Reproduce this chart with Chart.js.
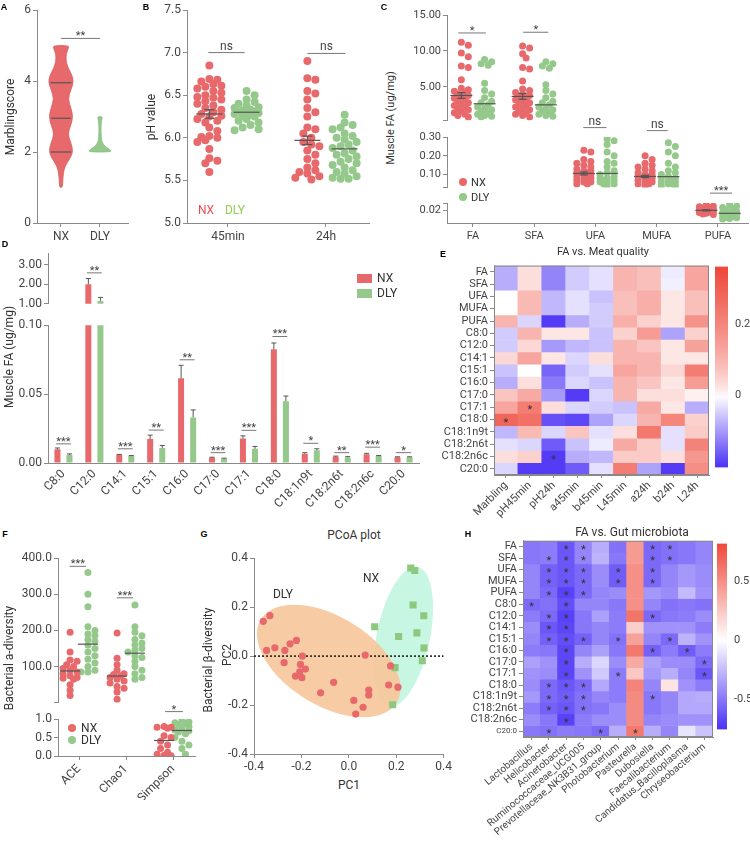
<!DOCTYPE html>
<html>
<head>
<meta charset="utf-8">
<script src="https://cdn.jsdelivr.net/npm/chart.js@4.4.1/dist/chart.umd.min.js"></script>
<style>
  body { margin: 0; background: #fff; }
  #fig { position: relative; width: 750px; height: 841px; overflow: hidden; font-family: Roboto, 'Liberation Sans', sans-serif; color: #333; }
  .lbl { position: absolute; white-space: nowrap; line-height: 1; }
  .sw { position: absolute; }
</style>
</head>
<body>
<div id="fig"></div>
<script>
// ---------- A: marbling score violins (profile) ----------
const marbGroups = ['NX', 'DLY'];
const marbTicks = [0, 2, 4, 6];
const marbTickLabels = ['0', '2', '4', '6'];
const marbLevelsNX = [1.0, 1.2, 1.4, 1.6, 1.8, 2.0, 2.25, 2.5, 2.75, 3.0, 3.25, 3.5, 3.75, 3.95, 4.15, 4.35, 4.55, 4.75, 4.9, 5.0];
const marbWidthNX = [0.04, 0.045, 0.06, 0.10, 0.22, 0.31, 0.26, 0.17, 0.25, 0.31, 0.25, 0.18, 0.25, 0.32, 0.29, 0.19, 0.13, 0.13, 0.18, 0.21];
const marbQuartNX = [2.0, 2.95, 3.95];
const marbLevelsDLY = [2.0, 2.07, 2.15, 2.25, 2.4, 2.7, 2.9, 3.0];
const marbWidthDLY = [0.31, 0.25, 0.14, 0.06, 0.03, 0.025, 0.04, 0.07];

// ---------- B: pH value ----------
const phTimes = ['45min', '24h'];
const phTicks = [5, 5.5, 6, 6.5, 7, 7.5];
const phTickLabels = ['5.0', '5.5', '6.0', '6.5', '7.0', '7.5'];
const phNX45 = [6.85, 6.69, 6.68, 6.66, 6.63, 6.61, 6.6, 6.58, 6.55, 6.53, 6.5, 6.48, 6.47, 6.45, 6.43, 6.4, 6.38, 6.35, 6.33, 6.3, 6.28, 6.26, 6.25, 6.22, 6.2, 6.18, 6.12, 6.08, 6.02, 6.01, 6.0, 5.97, 5.95, 5.87, 5.76, 5.73, 5.7, 5.6];
const phDLY45 = [6.55, 6.5, 6.45, 6.42, 6.4, 6.38, 6.36, 6.35, 6.33, 6.32, 6.31, 6.3, 6.3, 6.29, 6.28, 6.27, 6.26, 6.25, 6.22, 6.2, 6.18, 6.15, 6.12, 6.1, 6.09];
const phNX24 = [6.9, 6.7, 6.68, 6.55, 6.52, 6.45, 6.35, 6.3, 6.25, 6.12, 6.1, 6.05, 6.0, 5.95, 5.92, 5.9, 5.85, 5.8, 5.75, 5.7, 5.65, 5.62, 5.6, 5.58, 5.55, 5.53, 5.51];
const phDLY24 = [6.27, 6.18, 6.15, 6.12, 6.1, 6.05, 6.02, 6.0, 5.98, 5.95, 5.92, 5.9, 5.88, 5.85, 5.82, 5.8, 5.78, 5.75, 5.72, 5.7, 5.68, 5.65, 5.62, 5.6, 5.58, 5.55, 5.53, 5.52, 5.52];
const phMeanNX = [6.28, 5.97];
const phSemNX = [0.05, 0.05];
const phMeanDLY = [6.30, 5.87];
const phSig = [{ x1: 0.8, x2: 1.17, y: 7.0, t: 'ns' }, { x1: 1.81, x2: 2.2, y: 6.99, t: 'ns' }];

// ---------- C: muscle FA classes ----------
const faCats = ['FA', 'SFA', 'UFA', 'MUFA', 'PUFA'];
const faNX = [
  [11.2, 10.8, 9.7, 9.2, 7.9, 7.7, 6.0, 4.8, 4.6, 4.4, 4.2, 4.0, 3.8, 3.6, 3.4, 3.2, 3.0, 2.8, 2.6, 2.4, 2.2, 2.0, 1.8, 1.6, 1.4, 1.2, 1.0, 0.8],
  [10.7, 10.4, 9.6, 9.0, 7.7, 7.5, 5.8, 4.7, 4.5, 4.2, 4.0, 3.8, 3.6, 3.4, 3.2, 3.0, 2.8, 2.6, 2.4, 2.2, 2.0, 1.8, 1.6, 1.4, 1.2, 1.0, 0.8],
  [0.23, 0.22, 0.18, 0.17, 0.16, 0.15, 0.14, 0.13, 0.12, 0.12, 0.11, 0.11, 0.1, 0.1, 0.09, 0.09, 0.08, 0.08, 0.07, 0.07, 0.06, 0.06, 0.05, 0.05],
  [0.2, 0.18, 0.16, 0.15, 0.14, 0.13, 0.12, 0.11, 0.1, 0.1, 0.09, 0.09, 0.08, 0.08, 0.07, 0.07, 0.06, 0.06, 0.05, 0.05, 0.04],
  [0.0277, 0.026, 0.025, 0.024, 0.023, 0.022, 0.021, 0.02, 0.02, 0.019, 0.019, 0.018, 0.017, 0.016, 0.015, 0.014, 0.013]
];
const faDLY = [
  [8.8, 8.5, 8.2, 8.0, 5.5, 4.5, 4.0, 3.5, 3.0, 2.8, 2.5, 2.2, 2.0, 1.8, 1.6, 1.4, 1.2, 1.0, 0.9, 0.8],
  [8.5, 8.2, 7.9, 7.6, 5.3, 4.5, 4.0, 3.5, 3.0, 2.8, 2.5, 2.2, 2.0, 1.8, 1.6, 1.4, 1.2, 1.0, 0.9],
  [0.29, 0.28, 0.26, 0.22, 0.2, 0.17, 0.16, 0.14, 0.12, 0.11, 0.1, 0.09, 0.08, 0.08, 0.07, 0.07, 0.06, 0.06, 0.05, 0.05, 0.04],
  [0.27, 0.25, 0.22, 0.2, 0.16, 0.14, 0.12, 0.11, 0.1, 0.09, 0.08, 0.08, 0.07, 0.07, 0.06, 0.06, 0.05, 0.05, 0.04, 0.04],
  [0.028, 0.026, 0.024, 0.022, 0.02, 0.018, 0.017, 0.016, 0.015, 0.014, 0.013, 0.012, 0.011, 0.01, 0.009, 0.008, 0.007, 0.006]
];
const faMeanNX = [3.8, 3.67, 0.106, 0.09, 0.0195];
const faSemNX = [0.4, 0.4, 0.008, 0.006, 0.0008];
const faMeanDLY = [2.65, 2.5, 0.106, 0.089, 0.0149];
const faSemDLY = [0, 0, 0, 0, 0];
const faTopTicks = [0.333, 5, 10, 15];
const faTopLabels = ['', '5.00', '10.00', '15.00'];
const faMidTicks = [0.0317, 0.1, 0.2, 0.3];
const faMidLabels = ['', '0.10', '0.20', '0.30'];
const faLowTicks = [0.02, 0.0308];
const faLowLabels = ['0.02', ''];
const faSig = [
  { x1: 0.76, x2: 1.21, y: 12.5, t: '*' }, { x1: 1.82, x2: 2.23, y: 12.6, t: '*' },
  { x1: 2.8, x2: 3.18, y: 0.35, t: 'ns' }, { x1: 3.84, x2: 4.18, y: 0.334, t: 'ns' },
  { x1: 4.87, x2: 5.23, y: 0.046, t: '***' }
];

// ---------- D: individual fatty acids ----------
const dCats = ['C8:0', 'C12:0', 'C14:1', 'C15:1', 'C16:0', 'C17:0', 'C17:1', 'C18:0', 'C18:1n9t', 'C18:2n6t', 'C18:2n6c', 'C20:0'];
const dNX = [0.0099, 2.00, 0.0058, 0.0174, 0.0615, 0.0038, 0.0178, 0.0826, 0.0068, 0.0045, 0.0063, 0.0042];
const dNXse = [0.0010, 0.30, 0.0004, 0.0028, 0.0094, 0.0004, 0.0019, 0.0045, 0.0007, 0.0005, 0.0007, 0.0003];
const dDLY = [0.0058, 1.15, 0.0050, 0.0108, 0.0331, 0.0033, 0.0103, 0.0448, 0.0092, 0.0040, 0.0050, 0.0042];
const dDLYse = [0.0008, 0.18, 0.0004, 0.0019, 0.0054, 0.0002, 0.0017, 0.0038, 0.0011, 0.0006, 0.0004, 0.0003];
const dSigY = [0.0139, 2.59, 0.0103, 0.0239, 0.0749, 0.0075, 0.0237, 0.0918, 0.0143, 0.0075, 0.0115, 0.0075];
const dSigTxt = ['***', '**', '***', '**', '**', '***', '***', '***', '*', '**', '***', '*'];
const dTopTicks = [1, 2, 3];
const dTopLabels = ['1.00', '2.00', '3.00'];
const dLowTicks = [0, 0.05, 0.1];
const dLowLabels = ['0.00', '0.05', '0.10'];

// ---------- E: FA vs meat quality ----------
const faRows = ['FA', 'SFA', 'UFA', 'MUFA', 'PUFA', 'C8:0', 'C12:0', 'C14:1', 'C15:1', 'C16:0', 'C17:0', 'C17:1', 'C18:0', 'C18:1n9t', 'C18:2n6t', 'C18:2n6c', 'C20:0'];
const eCols = ['Marbling', 'pH45min', 'pH24h', 'a45min', 'b45min', 'L45min', 'a24h', 'b24h', 'L24h'];
const eVals = [
  [-0.08, 0.03, -0.12, -0.05, -0.03, 0.10, 0.08, -0.02, 0.13],
  [-0.08, 0.03, -0.12, -0.05, -0.03, 0.10, 0.08, -0.015, 0.13],
  [0.00, 0.09, -0.07, -0.03, -0.06, 0.08, 0.11, 0.02, 0.08],
  [0.00, 0.09, -0.07, -0.03, -0.05, 0.08, 0.11, 0.02, 0.08],
  [0.10, -0.04, -0.19, -0.08, -0.05, 0.11, 0.05, 0.02, 0.17],
  [-0.05, 0.10, 0.02, 0.02, -0.06, 0.05, 0.15, -0.09, 0.05],
  [-0.05, 0.04, -0.10, -0.07, -0.06, 0.10, 0.07, 0.02, 0.14],
  [0.04, 0.13, 0.02, -0.04, 0.03, 0.10, 0.10, 0.02, 0.02],
  [-0.06, 0.00, -0.15, -0.05, -0.03, 0.13, 0.10, 0.04, 0.22],
  [-0.08, 0.03, -0.13, -0.04, -0.06, 0.10, 0.07, 0.02, 0.15],
  [0.07, 0.12, -0.10, -0.19, -0.04, 0.10, 0.03, 0.03, 0.01],
  [0.13, 0.22, 0.03, -0.04, -0.05, -0.06, 0.12, 0.02, -0.08],
  [0.28, 0.25, -0.17, -0.18, -0.09, -0.04, 0.10, 0.20, 0.05],
  [-0.07, 0.09, -0.04, 0.07, -0.03, 0.03, 0.23, -0.03, 0.06],
  [-0.03, -0.04, -0.16, -0.06, -0.02, 0.12, 0.06, -0.03, 0.21],
  [0.03, 0.05, -0.19, -0.08, -0.07, 0.06, 0.06, 0.03, 0.16],
  [-0.04, -0.19, -0.19, -0.16, -0.03, 0.22, -0.09, -0.19, 0.18]
];
const eStars = [[11, 1], [12, 0], [15, 2]];
const eRange = [-0.2, 0.36];
const eBarTicks = [0, 0.2];
const eBarLabels = ['0', '0.2'];

// ---------- F: alpha diversity ----------
const fCats = ['ACE', 'Chao1', 'Simpson'];
const fNX = [
  [195, 140, 118, 115, 105, 100, 95, 90, 85, 80, 75, 70, 68, 65, 50, 35, 20],
  [193, 123, 105, 90, 80, 78, 75, 70, 65, 60, 55, 45, 40, 30, 10],
  [0.8, 0.78, 0.78, 0.75, 0.55, 0.5, 0.4, 0.3, 0.2, 0.1, 0.05, 0.02, 0.01]
];
const fDLY = [
  [360, 300, 265, 210, 200, 190, 185, 175, 170, 160, 150, 140, 130, 120, 110, 100, 90, 85, 85],
  [270, 210, 195, 185, 175, 165, 160, 150, 145, 140, 130, 125, 115, 100, 90, 80, 70, 65],
  [0.97, 0.92, 0.9, 0.88, 0.85, 0.8, 0.75, 0.7, 0.68, 0.65, 0.6, 0.5, 0.4, 0.3, 0.2, 0.05]
];
const fMeanNX = [88, 74, 0.42];
const fMeanDLY = [162, 137, 0.69];
const fSig = [{ x1: 0.8, x2: 1.15, y: 377, t: '***' }, { x1: 1.8, x2: 2.15, y: 290, t: '***' }, { x1: 2.83, x2: 3.21, y: 1.2, t: '*' }];
const fTopTicks = [0, 100, 200, 300, 400];
const fTopLabels = ['', '100.0', '200.0', '300.0', '400.0'];
const fLowTicks = [0, 0.5, 1];
const fLowLabels = ['0.0', '0.5', '1.0'];

// ---------- G: PCoA ----------
const pcTicks = [-0.4, -0.2, 0, 0.2, 0.4];
const pcTickLabels = ['-0.4', '-0.2', '0.0', '0.2', '0.4'];
const pcDLYx = [-0.361, -0.333, -0.347, -0.312, -0.270, -0.273, -0.248, -0.221, -0.196, -0.204, -0.207, -0.183, -0.225, -0.198, -0.119, -0.064, 0.069, 0.021, 0.029, 0.060, 0.084, 0.084, 0.168, 0.176, 0.207];
const pcDLYy = [0.142, 0.165, 0.023, 0.034, 0.023, -0.027, 0.050, 0.064, 0.000, -0.034, -0.064, -0.053, -0.082, -0.088, -0.150, -0.107, 0.004, -0.181, -0.237, -0.209, -0.139, -0.159, -0.118, -0.040, -0.127];
const pcNXx = [0.261, 0.278, 0.271, 0.316, 0.109, 0.210, 0.287, 0.317, 0.310, 0.195, 0.185];
const pcNXy = [0.360, 0.350, 0.209, 0.165, 0.120, 0.080, 0.095, 0.033, -0.019, -0.047, -0.199];
// confidence ellipses: centre, semi axes, angle (deg)
const ellDLY = [-0.085, -0.02, 0.333, 0.183, -30];
const ellNX = [0.23, 0.08, 0.29, 0.112, 78];

// ---------- H: FA vs gut microbiota ----------
const hCols = ['Lactobacillus', 'Helicobacter', 'Acinetobacter', 'Ruminococcaceae_UCG005', 'Prevotellaceae_NK3B31_group', 'Photobacterium', 'Pasteurella', 'Dubosiella', 'Faecalibacterium', 'Candidatus_Bacilloplasma', 'Chryseobacterium'];
const hVals = [
  [-0.50, -0.48, -0.62, -0.45, -0.30, -0.52, 0.45, -0.55, -0.52, -0.50, -0.45],
  [-0.50, -0.48, -0.62, -0.45, -0.28, -0.50, 0.45, -0.55, -0.52, -0.50, -0.45],
  [-0.45, -0.58, -0.62, -0.55, -0.42, -0.60, 0.50, -0.55, -0.45, -0.38, -0.42],
  [-0.45, -0.58, -0.62, -0.55, -0.42, -0.60, 0.50, -0.55, -0.45, -0.38, -0.42],
  [-0.45, -0.55, -0.70, -0.55, -0.45, -0.42, 0.50, -0.38, -0.42, -0.25, -0.40],
  [-0.55, -0.52, -0.65, -0.45, -0.45, -0.50, 0.50, -0.45, -0.52, -0.50, -0.52],
  [-0.48, -0.55, -0.70, -0.50, -0.35, -0.48, 0.62, -0.55, -0.50, -0.48, -0.42],
  [-0.42, -0.62, -0.68, -0.50, -0.45, -0.48, 0.22, -0.40, -0.40, -0.40, -0.48],
  [-0.45, -0.58, -0.65, -0.58, -0.45, -0.52, 0.42, -0.45, -0.55, -0.28, -0.40],
  [-0.48, -0.50, -0.68, -0.45, -0.35, -0.50, 0.60, -0.58, -0.48, -0.60, -0.48],
  [-0.35, -0.40, -0.68, -0.30, -0.15, -0.42, 0.38, -0.35, -0.42, -0.42, -0.55],
  [-0.40, -0.42, -0.68, -0.40, -0.20, -0.48, 0.25, -0.38, -0.30, -0.45, -0.62],
  [-0.42, -0.55, -0.62, -0.55, -0.32, -0.48, 0.55, -0.45, 0.12, -0.40, -0.48],
  [-0.38, -0.55, -0.60, -0.52, -0.45, -0.48, 0.52, -0.50, -0.45, -0.32, -0.30],
  [-0.48, -0.58, -0.62, -0.52, -0.50, -0.42, 0.52, -0.50, -0.45, -0.32, -0.32],
  [-0.42, -0.50, -0.70, -0.48, -0.42, -0.42, 0.52, -0.45, -0.42, -0.40, -0.40],
  [-0.50, -0.52, -0.48, -0.50, -0.55, -0.30, 0.60, -0.30, -0.45, -0.10, -0.22]
];
const hStars = [
  [0, 2], [0, 3], [0, 7], [0, 8],
  [1, 1], [1, 2], [1, 3], [1, 7], [1, 8],
  [2, 1], [2, 2], [2, 3], [2, 5], [2, 7],
  [3, 1], [3, 2], [3, 3], [3, 5], [3, 7],
  [4, 1], [4, 2], [4, 3],
  [5, 0], [5, 2],
  [6, 1], [6, 2], [6, 7],
  [7, 1], [7, 2],
  [8, 1], [8, 2], [8, 3], [8, 5], [8, 8],
  [9, 2], [9, 7], [9, 9],
  [10, 2], [10, 10],
  [11, 2], [11, 5], [11, 10],
  [12, 1], [12, 2], [12, 3],
  [13, 1], [13, 2], [13, 3], [13, 7],
  [14, 1], [14, 2], [14, 3],
  [15, 2],
  [16, 1], [16, 4], [16, 6]
];
const hRange = [-0.754, 0.82];
const hBarTicks = [-0.5, 0, 0.5];
const hBarLabels = ['-0.5', '0', '0.5'];

// ---------- style ----------
const RED = '#e8696b', GREEN = '#95c98c', AXIS = '#8a8a8a', INK = '#444';
const NEG = [75, 50, 245], POS = [238, 72, 58];
Chart.defaults.font.family = "Roboto, 'Liberation Sans', sans-serif";
Chart.defaults.font.size = 11;
Chart.defaults.color = INK;
Chart.defaults.animation = false;
Chart.defaults.events = [];
Chart.defaults.plugins.legend.display = false;
Chart.defaults.plugins.tooltip.enabled = false;

const fig = document.getElementById('fig');

function txt(s, x, y, o = {}) {
  const d = document.createElement('div');
  d.className = 'lbl';
  d.textContent = s;
  d.style.left = x + 'px';
  d.style.top = y + 'px';
  d.style.fontSize = (o.size || 11) + 'px';
  if (o.color) d.style.color = o.color;
  if (o.bold) d.style.fontWeight = 'bold';
  if (o.font) d.style.fontFamily = o.font;
  d.style.transform = 'translate(' + (o.left ? '0' : '-50%') + ',-50%)' + (o.rot ? ' rotate(-90deg)' : '');
  fig.appendChild(d);
}

function swatch(x, y, w, h, color, round) {
  const d = document.createElement('div');
  d.className = 'sw';
  d.style.cssText += `left:${x - w / 2}px;top:${y - h / 2}px;width:${w}px;height:${h}px;background:${color};` + (round ? 'border-radius:50%;' : '');
  fig.appendChild(d);
}

// diverging blue-white-red colour; gam bends the red half
function divColor(v, lo, hi, gam = 1) {
  const t = v < 0 ? Math.min(1, v / lo) : Math.pow(Math.min(1, v / hi), gam);
  const c = v < 0 ? NEG : POS;
  return 'rgb(' + c.map(k => Math.round(255 + (k - 255) * t)).join(',') + ')';
}

// simple beeswarm: horizontal pixel offsets so the dots do not pile up
function swarm(vals, cx, pxX, pxY, r, maxK = 6) {
  const placed = [];
  return vals.map(v => {
    const y = v * pxY;
    let best = 0, bestD = -1;
    for (let k = 0; k <= maxK; k++) {
      const dx = (k % 2 ? 1 : -1) * Math.ceil(k / 2) * r;
      let d = Infinity;
      placed.forEach(p => { d = Math.min(d, Math.hypot(p[0] - dx, p[1] - y)); });
      if (d >= 1.6 * r) { best = dx; bestD = d; break; }
      if (d > bestD) { best = dx; bestD = d; }
    }
    placed.push([best, y]);
    return { x: cx + best / pxX, y: v };
  });
}

function dot(pts, color, r, style) {
  return { data: pts, backgroundColor: color, borderWidth: 0, pointRadius: r, pointStyle: style || 'circle' };
}

function axis(pos, min, max, ticks, labels, o = {}) {
  const show = !o.hide;
  return {
    type: 'linear', position: pos, min, max, bounds: 'data',
    afterBuildTicks: s => { s.ticks = ticks.map(v => ({ value: v })); },
    ticks: {
      display: show, autoSkip: false, maxRotation: o.rot || 0, minRotation: o.rot || 0,
      padding: o.pad ?? 2, color: INK, font: { size: o.size || 11 },
      callback: (v, i) => labels[i]
    },
    grid: { display: show && !o.noMarks, drawOnChartArea: false, drawTicks: true, tickLength: 4, color: AXIS },
    border: { display: show && !o.noBorder, color: AXIS }
  };
}

function catX(o = {}) {
  const show = !o.hide;
  return {
    type: 'category', position: 'bottom', stacked: !!o.stacked,
    grid: { display: show && !!o.marks, offset: false, drawOnChartArea: false, tickLength: 3, color: AXIS },
    border: { display: show, color: AXIS },
    ticks: { display: show, autoSkip: false, maxRotation: o.rot || 0, minRotation: o.rot || 0, padding: o.pad ?? 2, font: { size: o.size || 11 }, color: INK }
  };
}

// drawing of the non-standard marks through the chart scales
function extras(sp) {
  const px = (c, v) => c.scales.x.getPixelForValue(v);
  const py = (c, v) => c.scales.y.getPixelForValue(v);
  const seg = (g, a, b, x, y) => { g.beginPath(); g.moveTo(a, b); g.lineTo(x, y); g.stroke(); };
  return {
    id: 'extras',
    beforeDatasetsDraw(c) {
      const g = c.ctx;
      (sp.ellipses || []).forEach(([cx, cy, a, b, deg, color]) => {
        const ca = Math.cos(deg * Math.PI / 180), sa = Math.sin(deg * Math.PI / 180);
        g.save();
        g.beginPath();
        for (let k = 0; k <= 90; k++) {
          const t = k / 90 * 2 * Math.PI, u = a * Math.cos(t), w = b * Math.sin(t);
          const X = px(c, cx + u * ca - w * sa), Y = py(c, cy + u * sa + w * ca);
          if (k) g.lineTo(X, Y); else g.moveTo(X, Y);
        }
        g.closePath();
        g.fillStyle = color;
        g.fill();
        g.restore();
      });
      (sp.violins || []).forEach(vl => {
        const pts = [];
        vl.lv.forEach((L, i) => pts.push([px(c, vl.x + vl.w[i]), py(c, L)]));
        for (let i = vl.lv.length - 1; i >= 0; i--) pts.push([px(c, vl.x - vl.w[i]), py(c, vl.lv[i])]);
        const n = pts.length, mid = (p, q) => [(p[0] + q[0]) / 2, (p[1] + q[1]) / 2];
        g.save();
        g.beginPath();
        const s0 = mid(pts[n - 1], pts[0]);
        g.moveTo(s0[0], s0[1]);
        for (let i = 0; i < n; i++) {
          const m2 = mid(pts[i], pts[(i + 1) % n]);
          g.quadraticCurveTo(pts[i][0], pts[i][1], m2[0], m2[1]);
        }
        g.closePath();
        g.fillStyle = vl.color;
        g.fill();
        g.strokeStyle = vl.edge;
        g.lineWidth = 0.8;
        g.stroke();
        g.strokeStyle = '#555';
        g.lineWidth = 1.2;
        vl.q.forEach(q => {
          let w = 0;
          for (let i = 1; i < vl.lv.length; i++) {
            if (q <= vl.lv[i]) { const f = (q - vl.lv[i - 1]) / (vl.lv[i] - vl.lv[i - 1]); w = vl.w[i - 1] + f * (vl.w[i] - vl.w[i - 1]); break; }
          }
          if (q <= vl.lv[0]) w = vl.w[0];
          seg(g, px(c, vl.x - w) + 2, py(c, q), px(c, vl.x + w) - 2, py(c, q));
        });
        g.restore();
      });
    },
    afterDatasetsDraw(c) {
      const g = c.ctx;
      g.save();
      g.lineWidth = 1.2;
      (sp.means || []).forEach(m => {
        const ys = c.scales.y;
        if (m.m < ys.min || m.m > ys.max) return;
        const X = px(c, m.x), Y = py(c, m.m);
        g.strokeStyle = '#555';
        seg(g, X - m.hw, Y, X + m.hw, Y);
        if (m.se) {
          const Y1 = py(c, m.m + m.se), Y2 = py(c, m.m - m.se);
          seg(g, X, Y1, X, Y2);
          seg(g, X - m.cap, Y1, X + m.cap, Y1);
          seg(g, X - m.cap, Y2, X + m.cap, Y2);
        }
      });
      if (sp.errs) {
        const ys = c.scales.y;
        g.strokeStyle = '#555';
        g.lineWidth = 1;
        c.data.datasets.forEach((ds, di) => {
          c.getDatasetMeta(di).data.forEach((el, i) => {
            const v = ds.data[i], e = sp.errs[di][i];
            if (v < ys.min || v + e > ys.max) return;
            const Y1 = ys.getPixelForValue(v), Y2 = ys.getPixelForValue(v + e);
            seg(g, el.x, Y1, el.x, Y2);
            seg(g, el.x - 2.5, Y2, el.x + 2.5, Y2);
          });
        });
      }
      (sp.sig || []).forEach(s => {
        const X1 = px(c, s.x1), X2 = px(c, s.x2), Y = py(c, s.y);
        g.strokeStyle = '#777';
        g.lineWidth = 1;
        seg(g, X1, Y, X2, Y);
        g.fillStyle = INK;
        g.font = (s.t === 'ns' ? 12 : 11) + "px Roboto, 'Liberation Sans', sans-serif";
        g.textAlign = 'center';
        g.textBaseline = 'alphabetic';
        g.fillText(s.t, (X1 + X2) / 2, s.t === 'ns' ? Y - 3 : Y + 1);
      });
      if (sp.stars) {
        g.fillStyle = '#333';
        g.font = "11px Roboto, 'Liberation Sans', sans-serif";
        g.textAlign = 'center';
        g.textBaseline = 'alphabetic';
        sp.stars.forEach(([r, col]) => g.fillText('*', px(c, col), py(c, r + 0.5) + 6));
      }
      if (sp.frame) {
        const a = c.chartArea;
        g.strokeStyle = '#888';
        g.lineWidth = 1;
        g.strokeRect(a.left + 0.5, a.top + 0.5, a.right - a.left - 1, a.bottom - a.top - 1);
      }
      g.restore();
    }
  };
}

// place a chart so that its plot area lands on the given page rectangle
function mk(area, m, cfg, sp) {
  const [x0, y0, x1, y1] = area;
  const w = x1 - x0 + m.l + m.r, h = y1 - y0 + m.t + m.b;
  const cv = document.createElement('canvas');
  cv.width = w;
  cv.height = h;
  cv.style.cssText = `position:absolute;left:${x0 - m.l}px;top:${y0 - m.t}px;width:${w}px;height:${h}px`;
  fig.appendChild(cv);
  const pad = { left: m.l, right: m.r, top: m.t, bottom: m.b };
  Object.values(cfg.options.scales).forEach(s => {
    if (s.position === 'left') { pad.left = 0; s.afterFit = sc => { sc.width = m.l; }; }
    if (s.position === 'right') { pad.right = 0; s.afterFit = sc => { sc.width = m.r; }; }
    if (s.position === 'bottom') { pad.bottom = 0; s.afterFit = sc => { sc.height = m.b; }; }
  });
  cfg.options.responsive = false;
  cfg.options.maintainAspectRatio = false;
  cfg.options.layout = { padding: pad, autoPadding: false };
  cfg.plugins = [extras(sp || {})];
  return new Chart(cv, cfg);
}

function heat(area, m, cols, vals, lo, hi, gam, stars, o) {
  return mk(area, m, {
    type: 'bar',
    data: {
      labels: cols,
      datasets: faRows.map((r, i) => ({
        label: r, data: cols.map(() => 1), backgroundColor: vals[i].map(v => divColor(v, lo, hi, gam)),
        borderWidth: 0, barPercentage: 1, categoryPercentage: 1
      }))
    },
    options: {
      scales: {
        x: catX({ stacked: true, marks: true, rot: o.rot, size: o.xSize, pad: 1 }),
        y: {
          type: 'linear', position: 'left', stacked: true, reverse: true, min: 0, max: faRows.length,
          afterBuildTicks: s => { s.ticks = faRows.map((r, i) => ({ value: i + 0.5 })); },
          ticks: { autoSkip: false, padding: 2, color: INK, callback: (v, i) => faRows[i],
            font: ctx => ({ size: o.smallLast && ctx.index === faRows.length - 1 ? 8 : 11 }) },
          grid: { display: true, drawOnChartArea: false, tickLength: 4, color: AXIS },
          border: { display: true, color: AXIS }
        }
      }
    }
  }, { stars, frame: true });
}

function colorBar(area, m, lo, hi, gam, ticks, labels) {
  return mk(area, m, {
    type: 'bar',
    data: {
      labels: [''],
      datasets: [{
        data: [[lo, hi]], borderWidth: 0, barPercentage: 1, categoryPercentage: 1,
        backgroundColor: ctx => {
          const ch = ctx.chart;
          if (!ch.chartArea) return '#fff';
          const ys = ch.scales.y;
          const gr = ch.ctx.createLinearGradient(0, ys.getPixelForValue(lo), 0, ys.getPixelForValue(hi));
          for (let k = 0; k <= 40; k++) {
            const v = lo + (hi - lo) * k / 40;
            gr.addColorStop(k / 40, divColor(v, lo, hi, gam));
          }
          return gr;
        }
      }]
    },
    options: {
      scales: {
        x: catX({ hide: true }),
        y: axis('right', lo, hi, ticks, labels, { noMarks: true, noBorder: true, size: 11, pad: 3 })
      }
    }
  });
}

// ---------- A ----------
mk([37, 10, 128, 223], { l: 37, t: 10, r: 6, b: 26 }, {
  type: 'scatter',
  data: { datasets: [] },
  options: {
    scales: {
      x: axis('bottom', 0.385, 2.718, [1, 2], marbGroups, { size: 12, pad: 3 }),
      y: axis('left', 0, 6, marbTicks, marbTickLabels, { size: 12 })
    }
  }
}, {
  violins: [
    { x: 1, lv: marbLevelsNX, w: marbWidthNX, q: marbQuartNX, color: RED, edge: '#d65c5e' },
    { x: 2, lv: marbLevelsDLY, w: marbWidthDLY, q: [], color: GREEN, edge: '#88bf7f' }
  ],
  sig: [{ x1: 1, x2: 2, y: 5.2, t: '**' }]
});

// ---------- B ----------
const bOff = 0.19;
mk([187, 10, 369, 223], { l: 40, t: 10, r: 5, b: 26 }, {
  type: 'scatter',
  data: {
    datasets: [
      dot(swarm(phNX45, 1 - bOff, 98, 85.3, 4), RED, 4),
      dot(swarm(phDLY45, 1 + bOff, 98, 85.3, 4), GREEN, 4),
      dot(swarm(phNX24, 2 - bOff, 98, 85.3, 4), RED, 4),
      dot(swarm(phDLY24, 2 + bOff, 98, 85.3, 4), GREEN, 4)
    ]
  },
  options: {
    scales: {
      x: axis('bottom', 0.582, 2.439, [1, 2], phTimes, { size: 12, pad: 3 }),
      y: axis('left', 5, 7.5, phTicks, phTickLabels, { size: 12 })
    }
  }
}, {
  means: [0, 1].flatMap(i => [
    { x: i + 1 - bOff, m: phMeanNX[i], se: phSemNX[i], hw: 13, cap: 5 },
    { x: i + 1 + bOff, m: phMeanDLY[i], se: 0, hw: 13 }
  ]),
  sig: phSig
});

// ---------- C (broken axis: three stacked segments) ----------
const cOff = 0.19;
function cSeg(area, m, min, max, ticks, labels, cats, showX) {
  const ds = [], means = [];
  const pxY = (area[3] - area[1]) / (max - min);
  cats.forEach(i => {
    ds.push(dot(swarm(faNX[i], i + 1 - cOff, 61.25, pxY, 3.5, 4), RED, 3.5));
    ds.push(dot(swarm(faDLY[i], i + 1 + cOff, 61.25, pxY, 3.5, 4), GREEN, 3.5));
    means.push({ x: i + 1 - cOff, m: faMeanNX[i], se: faSemNX[i], hw: 11, cap: 4 });
    means.push({ x: i + 1 + cOff, m: faMeanDLY[i], se: faSemDLY[i], hw: 11, cap: 4 });
  });
  const sig = faSig.filter(s => cats.includes(Math.round((s.x1 + s.x2) / 2) - 1));
  mk(area, m, {
    type: 'scatter',
    data: { datasets: ds },
    options: {
      scales: {
        x: axis('bottom', 0.576, 5.49, [1, 2, 3, 4, 5], faCats, { size: 11, hide: !showX, pad: 3 }),
        y: axis('left', min, max, ticks, labels, { size: 11 })
      }
    }
  }, { means, sig });
}
cSeg([447, 15, 748, 125], { l: 50, t: 12, r: 2, b: 4 }, 0.333, 15, faTopTicks, faTopLabels, [0, 1], false);
cSeg([447, 137, 748, 192], { l: 50, t: 24, r: 2, b: 4 }, 0.0317, 0.3, faMidTicks, faMidLabels, [2, 3], false);
cSeg([447, 203, 748, 223], { l: 50, t: 24, r: 2, b: 18 }, 0, 0.0308, faLowTicks, faLowLabels, [4], true);

// ---------- D (broken axis bar chart) ----------
function dSeg(area, m, min, max, ticks, labels, showX) {
  const sig = dSigY.map((y, i) => ({ x1: i - 0.24, x2: i + 0.24, y, t: dSigTxt[i] })).filter(s => s.y >= min && s.y <= max);
  mk(area, m, {
    type: 'bar',
    data: {
      labels: dCats,
      datasets: [
        { data: dNX, backgroundColor: RED, barPercentage: 0.5, categoryPercentage: 0.78 },
        { data: dDLY, backgroundColor: GREEN, barPercentage: 0.5, categoryPercentage: 0.78 }
      ]
    },
    options: {
      scales: {
        x: catX({ hide: !showX, rot: 45, size: 12, pad: 1 }),
        y: axis('left', min, max, ticks, labels, { size: 12 })
      }
    }
  }, { errs: [dNXse, dDLYse], sig });
}
dSeg([48, 248, 419, 309], { l: 48, t: 4, r: 2, b: 4 }, 1, 3.6, dTopTicks, dTopLabels, false);
dSeg([48, 322, 419, 463], { l: 48, t: 6, r: 2, b: 46 }, 0, 0.1, dLowTicks, dLowLabels, true);

// ---------- E ----------
heat([494, 261, 709, 475], { l: 58, t: 4, r: 2, b: 46 }, eCols, eVals, eRange[0], eRange[1], 0.7, eStars, { rot: 45, xSize: 11 });
colorBar([715, 261, 728, 475], { l: 0, t: 4, r: 22, b: 2 }, eRange[0], eRange[1], 0.7, eBarTicks, eBarLabels);

// ---------- F (broken axis) ----------
const fOff = 0.19;
function fSeg(area, m, min, max, ticks, labels, cats, showX) {
  const ds = [], means = [];
  const pxY = (area[3] - area[1]) / (max - min);
  cats.forEach(i => {
    ds.push(dot(swarm(fNX[i], i + 1 - fOff, 47, pxY, 3.5, 4), RED, 3.5));
    ds.push(dot(swarm(fDLY[i], i + 1 + fOff, 47, pxY, 3.5, 4), GREEN, 3.5));
    means.push({ x: i + 1 - fOff, m: fMeanNX[i], hw: 10 });
    means.push({ x: i + 1 + fOff, m: fMeanDLY[i], hw: 10 });
  });
  const sig = fSig.filter(s => cats.includes(Math.round(s.x1) - 1));
  mk(area, m, {
    type: 'scatter',
    data: { datasets: ds },
    options: {
      scales: {
        x: axis('bottom', 0.553, 3.468, [1, 2, 3], fCats, { size: 12, hide: !showX, rot: 45, pad: 2 }),
        y: axis('left', min, max, ticks, labels, { size: 12 })
      }
    }
  }, { means, sig });
}
fSeg([58, 558, 195, 708], { l: 48, t: 12, r: 4, b: 4 }, 0, 400, fTopTicks, fTopLabels, [0, 1], false);
fSeg([58, 719, 195, 756], { l: 48, t: 24, r: 4, b: 44 }, 0, 1, fLowTicks, fLowLabels, [2], true);

// ---------- G ----------
mk([254, 557, 444, 754], { l: 40, t: 8, r: 10, b: 20 }, {
  type: 'scatter',
  data: {
    datasets: [
      dot(pcDLYx.map((x, i) => ({ x, y: pcDLYy[i] })), RED, 3.6),
      dot(pcNXx.map((x, i) => ({ x, y: pcNXy[i] })), '#8cc97f', 5, 'rect'),
      { type: 'line', data: [{ x: -0.4, y: 0 }, { x: 0.4, y: 0 }], borderColor: '#222', borderWidth: 1.6, borderDash: [2, 2], pointRadius: 0 }
    ]
  },
  options: {
    scales: {
      x: axis('bottom', -0.4, 0.4, pcTicks, pcTickLabels, { size: 12, pad: 2 }),
      y: axis('left', -0.4, 0.4, pcTicks, pcTickLabels, { size: 12 })
    }
  }
}, {
  ellipses: [
    [...ellNX, 'rgba(196,245,224,0.95)'],
    [...ellDLY, 'rgba(247,200,158,0.95)']
  ]
});

// ---------- H ----------
heat([523, 538, 713, 737], { l: 60, t: 4, r: 2, b: 104 }, hCols, hVals, hRange[0], hRange[1], 1, hStars, { rot: 40, xSize: 10, smallLast: true });
colorBar([717, 538, 727, 737], { l: 0, t: 4, r: 23, b: 2 }, hRange[0], hRange[1], 1, hBarTicks, hBarLabels);

// ---------- text: panel letters, titles, legends ----------
const LETTER = "'Liberation Sans', Arial, sans-serif";
[['A', 4, 7], ['B', 146, 7], ['C', 384, 7], ['D', 5, 244], ['E', 443, 254], ['F', 5, 534], ['G', 204, 534], ['H', 468, 534]]
  .forEach(([s, x, y]) => txt(s, x, y, { size: 9, bold: true, font: LETTER, color: '#000' }));

txt('Marblingscore', 10, 117, { size: 12, rot: true });
txt('pH value', 151, 117, { size: 12, rot: true });
txt('NX', 206, 210, { size: 12, color: '#f04c50' });
txt('DLY', 235, 210, { size: 12, color: '#8fd14f' });

txt('Muscle FA (ug/mg)', 390, 118, { size: 11, rot: true });
swatch(463, 182, 8, 8, RED, true);
txt('NX', 471, 182, { size: 11, left: true });
swatch(463, 197, 8, 8, GREEN, true);
txt('DLY', 471, 197, { size: 11, left: true });

txt('Muscle FA (ug/mg)', 9, 357, { size: 12, rot: true });
swatch(364, 278, 15, 9, RED);
txt('NX', 377, 278, { size: 12, left: true });
swatch(364, 293, 15, 9, GREEN);
txt('DLY', 377, 293, { size: 12, left: true });

txt('FA vs. Meat quality', 603, 251, { size: 11 });

txt('Bacterial a-diversity', 9, 658, { size: 12, rot: true });
swatch(72, 728, 8, 8, RED, true);
txt('NX', 81, 728, { size: 12, left: true });
swatch(72, 740, 8, 8, GREEN, true);
txt('DLY', 81, 740, { size: 12, left: true });

txt('PCoA plot', 354, 535, { size: 12 });
txt('Bacterial \u03b2-diversity', 208, 660, { size: 12, rot: true });
txt('PC2', 227, 655, { size: 12, rot: true });
txt('PC1', 349, 785, { size: 12 });
txt('DLY', 283, 594, { size: 12 });
txt('NX', 371, 578, { size: 12 });

txt('FA vs. Gut microbiota', 632, 532, { size: 12 });
</script>
</body>
</html>
